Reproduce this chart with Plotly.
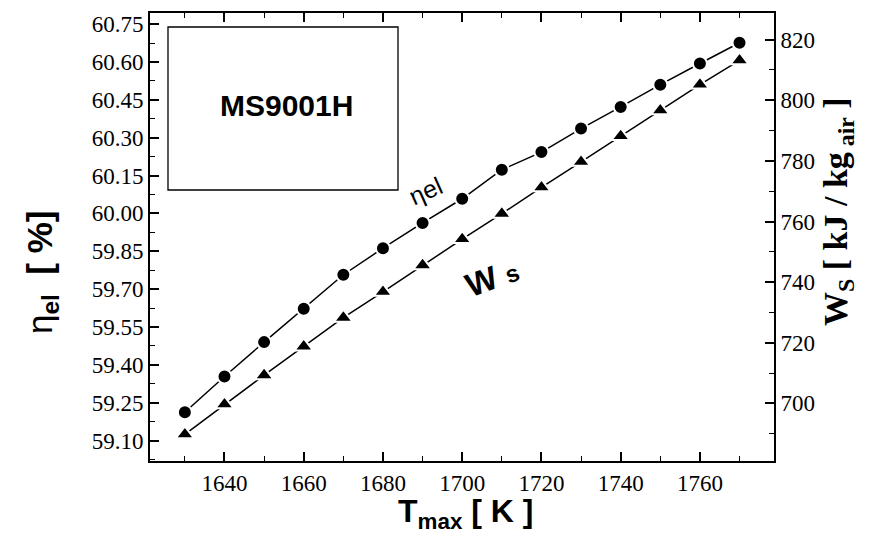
import plotly.graph_objects as go

# ---------------- data ----------------
t_max = [1630, 1640, 1650, 1660, 1670, 1680, 1690, 1700, 1710, 1720, 1730, 1740, 1750, 1760, 1770]
eta_el = [59.212, 59.354, 59.490, 59.622, 59.757, 59.862, 59.962, 60.058, 60.173, 60.243,
          60.336, 60.422, 60.510, 60.594, 60.676]
w_s = [689.8, 699.7, 709.3, 718.8, 728.3, 736.8, 745.6, 754.2, 762.6, 771.3,
       779.7, 788.2, 796.7, 805.2, 813.2]

x_ticks = [1640, 1660, 1680, 1700, 1720, 1740, 1760]
y_ticks = [59.10, 59.25, 59.40, 59.55, 59.70, 59.85, 60.00, 60.15, 60.30, 60.45, 60.60, 60.75]
y2_ticks = [700, 720, 740, 760, 780, 800, 820]

SERIF = "Liberation Serif"
SANS = "Liberation Sans"

fig = go.Figure()
fig.add_trace(go.Scatter(
    x=t_max, y=eta_el, mode="lines+markers", yaxis="y",
    line=dict(color="black", width=1.5),
    marker=dict(symbol="circle", size=14, color="black", line=dict(color="white", width=2)),
    showlegend=False, cliponaxis=False))
fig.add_trace(go.Scatter(
    x=t_max, y=w_s, mode="lines+markers", yaxis="y2",
    line=dict(color="black", width=1.5),
    marker=dict(symbol="triangle-up", size=16, color="black", line=dict(color="white", width=2)),
    showlegend=False, cliponaxis=False))

tickfont = dict(family=SERIF, size=23, color="black")

# plot area (page pixels): x 150..774, y 13..461 (page body has an 8px margin)
fig.update_layout(
    width=862, height=528,
    margin=dict(l=142, r=96, t=5, b=75, autoexpand=False),
    paper_bgcolor="white", plot_bgcolor="white",
    font=dict(family=SERIF, color="black"),
    xaxis=dict(range=[1621.2, 1778.7], tickvals=x_ticks, ticks="inside", ticklen=9, tickwidth=1.5,
               tickcolor="black", showline=True, linecolor="black", linewidth=2, mirror="ticks",
               showgrid=False, zeroline=False, tickfont=tickfont, automargin=False,
               minor=dict(dtick=10, tick0=1630, ticks="inside", ticklen=5, tickwidth=1.2, tickcolor="black")),
    yaxis=dict(range=[59.019, 60.794], tickvals=y_ticks, tickformat=".2f", ticks="inside", ticklen=9,
               tickwidth=1.5, tickcolor="black", showline=True, linecolor="black", linewidth=2,
               showgrid=False, zeroline=False, tickfont=tickfont, automargin=False,
               minor=dict(dtick=0.075, tick0=59.025, ticks="inside", ticklen=5, tickwidth=1.2, tickcolor="black")),
    yaxis2=dict(range=[681.0, 828.8], tickvals=y2_ticks, overlaying="y", side="right", ticks="inside",
                ticklen=9, tickwidth=1.5, tickcolor="black", showline=True, linecolor="black", linewidth=2,
                showgrid=False, zeroline=False, tickfont=tickfont, automargin=False,
                minor=dict(dtick=10, tick0=690, ticks="inside", ticklen=5, tickwidth=1.2, tickcolor="black")),
)

PX0, PW, PY1, PH = 150, 624, 461, 448


def px(xp):
    return (xp - PX0) / PW


def py(yp):
    return (PY1 - yp) / PH


# legend-like box
fig.add_shape(type="rect", xref="paper", yref="paper", x0=px(168), x1=px(398), y0=py(190), y1=py(27),
              line=dict(color="black", width=1.3), fillcolor="rgba(0,0,0,0)")

ann = [
    dict(x=px(286), y=py(105), text="<b>MS9001H</b>", font=dict(family=SANS, size=30, color="black")),
    dict(x=px(465), y=py(513), text="<b>T<sub>max</sub> [ K ]</b>",
         font=dict(family=SANS, size=32, color="black")),
    dict(x=px(42), y=py(272), text="η<sub><b>el</b></sub>  <b>[ %]</b>", textangle=-90,
         font=dict(family=SANS, size=35, color="black")),
    dict(x=px(838), y=py(212),
         text="<b>W<sub>S</sub> [ kJ / kg<sub> air</sub> ]</b>", textangle=-90,
         font=dict(family=SERIF, size=34, color="black")),
    dict(x=px(425), y=py(191), text="ηel", textangle=-24,
         font=dict(family=SANS, size=25, color="black")),
    dict(x=px(492), y=py(277),
         text="<b>W</b> <span style='font-size:24px'><b>s</b></span>", textangle=-20,
         font=dict(family=SANS, size=33, color="black")),
]
for a in ann:
    fig.add_annotation(xref="paper", yref="paper", showarrow=False, xanchor="center", yanchor="middle", **a)

fig.write_html("out.html")
